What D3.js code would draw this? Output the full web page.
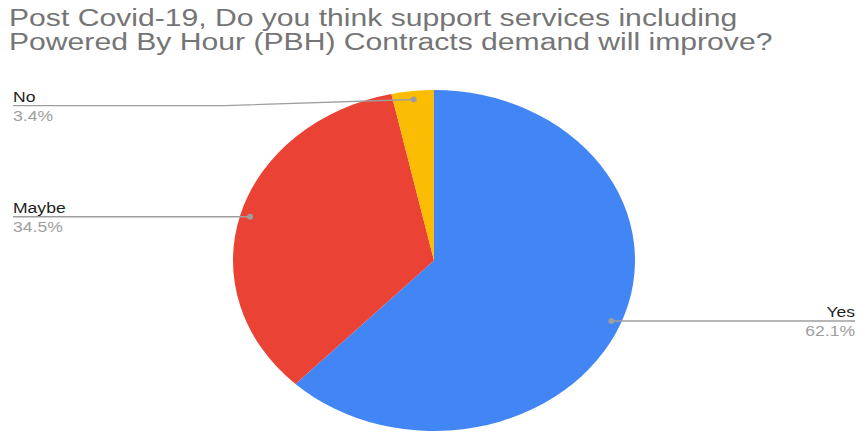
<!DOCTYPE html>
<html>
<head>
<meta charset="utf-8">
<script src="https://cdn.jsdelivr.net/npm/d3@7"></script>
<style>
  html, body { margin: 0; padding: 0; background: #fff; }
  svg { display: block; font-family: "Liberation Sans", Arial, sans-serif; }
</style>
</head>
<body>
<svg width="858" height="432"></svg>
<script>
"use strict";

const titleLines = [
  "Post Covid-19, Do you think support services including",
  "Powered By Hour (PBH) Contracts demand will improve?"
];
const categories = ["Yes", "Maybe", "No"];
const values = [62.1, 34.5, 3.4];
const colors = ["#4285f4", "#ea4335", "#fbbc04"];

const svg = d3.select("svg");
const width = +svg.attr("width");
const height = +svg.attr("height");

// the source picture is stretched sideways, so text and pie get an x scale
const titleStretch = 1.31;
const labelStretch = 1.17;
const cx = 434;
const cy = 260.5;
const rx = 201;
const ry = 170.5;

const data = categories.map((c, i) => ({ name: c, value: values[i], color: colors[i] }));

const title = svg.append("g").attr("transform", `translate(9,0) scale(${titleStretch},1)`);
title.selectAll("text")
  .data(titleLines)
  .enter()
  .append("text")
  .attr("x", 0)
  .attr("y", (d, i) => 26 + i * 24.5)
  .attr("fill", "#757575")
  .style("font-size", "23px")
  .text(d => d);

const pie = d3.pie().sort(null).value(d => d.value);
const arcs = pie(data);

const arc = d3.arc().innerRadius(0).outerRadius(ry);
const dotArc = d3.arc().innerRadius(ry * 0.95).outerRadius(ry * 0.95);

const g = svg.append("g")
  .attr("transform", `translate(${cx},${cy}) scale(${rx / ry},1)`);

g.selectAll("path")
  .data(arcs)
  .enter()
  .append("path")
  .attr("d", arc)
  .attr("fill", d => d.data.color);

// leader lines: dot on slice, then out to the label
const labelLayout = {
  Yes: { side: "right", lineY: 321, bendX: null, endX: 855 },
  Maybe: { side: "left", lineY: 216.7, bendX: null, endX: 13 },
  No: { side: "left", lineY: 105.6, bendX: 225, endX: 13 }
};

const toScreen = p => [cx + p[0] * (rx / ry), cy + p[1]];

arcs.forEach(a => {
  const lay = labelLayout[a.data.name];
  const dot = toScreen(dotArc.centroid(a));
  const pts = [dot];
  if (lay.bendX !== null) pts.push([lay.bendX, lay.lineY]);
  else pts[0] = [dot[0], lay.lineY];
  pts.push([lay.endX, lay.lineY]);

  svg.append("path")
    .attr("d", d3.line()(pts))
    .attr("fill", "none")
    .attr("stroke", "#9e9e9e")
    .attr("stroke-width", 1.4);

  svg.append("circle")
    .attr("cx", pts[0][0])
    .attr("cy", pts[0][1])
    .attr("r", 3)
    .attr("fill", "#9e9e9e");

  const anchor = lay.side === "right" ? "end" : "start";
  const lbl = svg.append("g")
    .attr("transform", `translate(${lay.endX},0) scale(${labelStretch},1)`);
  lbl.append("text")
    .attr("x", 0)
    .attr("y", lay.lineY - 4)
    .attr("text-anchor", anchor)
    .attr("fill", "#1f1f1f")
    .style("font-size", "15px")
    .text(a.data.name);
  lbl.append("text")
    .attr("x", 0)
    .attr("y", lay.lineY + 15)
    .attr("text-anchor", anchor)
    .attr("fill", "#9e9e9e")
    .style("font-size", "15px")
    .text(d3.format(".1f")(a.data.value) + "%");
});
</script>
</body>
</html>
